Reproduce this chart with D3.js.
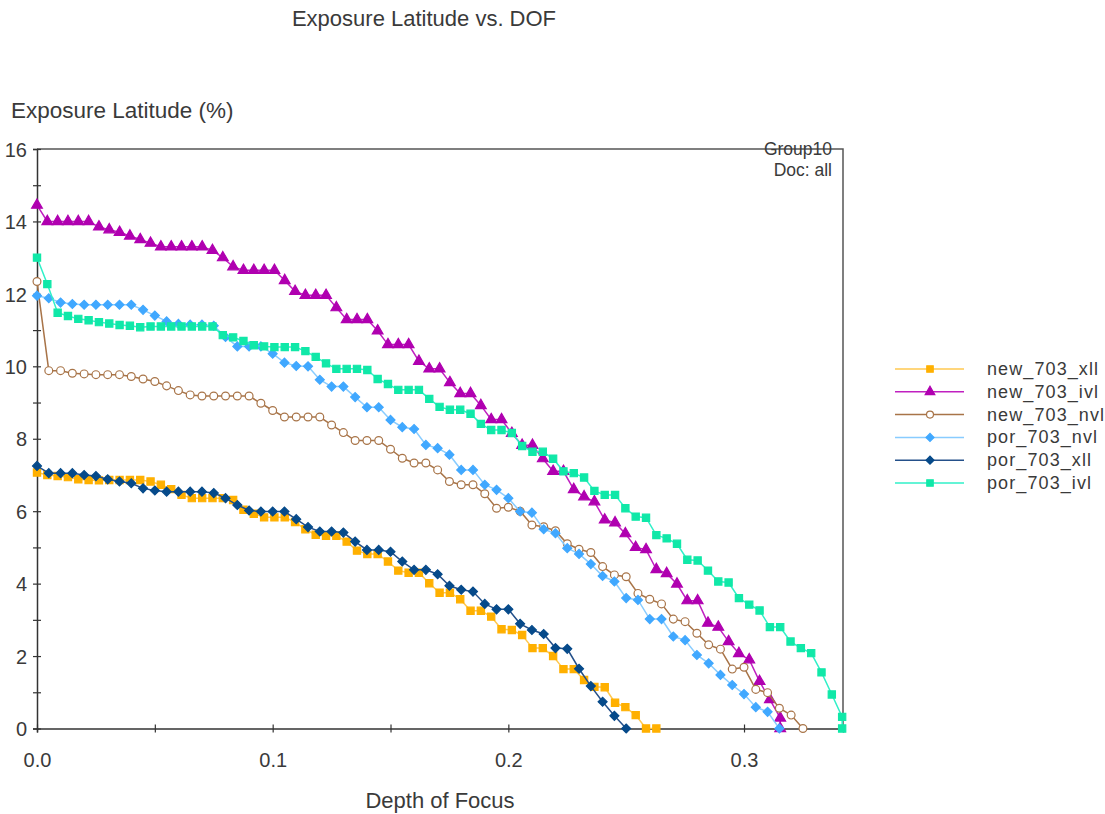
<!DOCTYPE html>
<html>
<head>
<meta charset="utf-8">
<script src="https://cdn.jsdelivr.net/npm/d3@7"></script>
<style>
  body { margin: 0; background: #fff; }
  text { font-family: "Liberation Sans", Arial, sans-serif; fill: #3a3a3a; }
</style>
</head>
<body>
<script>
// series names, in legend order
var seriesNames = ["new_703_xll", "new_703_ivl", "new_703_nvl", "por_703_nvl", "por_703_xll", "por_703_ivl"];

// DOF sampling step of each series
var dofSteps = [0.00438, 0.00438, 0.005, 0.005, 0.005, 0.00438];

// exposure latitude (%)
var newXll = [7.07, 7.0, 6.97, 6.94, 6.88, 6.86, 6.85, 6.86, 6.86, 6.86, 6.86, 6.82, 6.73, 6.61, 6.45, 6.36, 6.36, 6.36, 6.36, 6.31,
  6.04, 5.93, 5.83, 5.83, 5.83, 5.7, 5.5, 5.35, 5.32, 5.32, 5.16, 4.91, 4.82, 4.82, 4.61, 4.36, 4.3, 4.3, 4.01, 3.75,
  3.75, 3.57, 3.25, 3.25, 3.09, 2.74, 2.72, 2.58, 2.22, 2.22, 2.0, 1.64, 1.64, 1.34, 1.15, 1.14, 0.71, 0.59, 0.37, 0, 0];
var newIvl = [14.45, 14.0, 14.0, 14.0, 14.0, 14.0, 13.85, 13.77, 13.7, 13.6, 13.5, 13.4, 13.3, 13.3, 13.3, 13.3, 13.3, 13.2, 13.0, 12.75,
  12.65, 12.65, 12.65, 12.65, 12.37, 12.07, 11.96, 11.96, 11.96, 11.62, 11.29, 11.29, 11.29, 10.98, 10.6, 10.6, 10.6, 10.14, 9.93, 9.93,
  9.55, 9.25, 9.25, 8.92, 8.53, 8.53, 8.15, 7.82, 7.82, 7.45, 7.1, 7.1, 6.6, 6.4, 6.26, 5.76, 5.68, 5.38, 5.0, 4.94,
  4.39, 4.28, 3.99, 3.53, 3.53, 2.91, 2.8, 2.4, 2.07, 1.9, 1.3, 0.8, 0.29];
var newNvl = [12.34, 9.88, 9.88, 9.81, 9.79, 9.77, 9.77, 9.77, 9.72, 9.65, 9.58, 9.46, 9.33, 9.21, 9.18, 9.18, 9.18, 9.18, 9.18, 8.98,
  8.78, 8.6, 8.6, 8.6, 8.6, 8.38, 8.17, 7.95, 7.95, 7.95, 7.71, 7.46, 7.33, 7.33, 7.14, 6.82, 6.73, 6.73, 6.48, 6.08,
  6.11, 6.0, 5.62, 5.57, 5.46, 5.1, 4.95, 4.86, 4.47, 4.24, 4.19, 3.73, 3.57, 3.44, 3.02, 2.95, 2.63, 2.31, 2.19, 1.64,
  1.69, 1.08, 0.99, 0.56, 0.37, 0];
var porNvl = [11.95, 11.88, 11.76, 11.72, 11.7, 11.7, 11.7, 11.7, 11.7, 11.56, 11.4, 11.24, 11.17, 11.15, 11.15, 11.12, 10.81, 10.55, 10.55, 10.55,
  10.35, 10.1, 10.01, 10.0, 9.63, 9.44, 9.44, 9.15, 8.87, 8.87, 8.52, 8.32, 8.27, 7.83, 7.74, 7.56, 7.14, 7.14, 6.73, 6.59,
  6.36, 5.99, 5.96, 5.5, 5.39, 4.98, 4.82, 4.54, 4.21, 4.06, 3.6, 3.55, 3.02, 3.02, 2.54, 2.44, 2.03, 1.8, 1.48, 1.2,
  0.95, 0.59, 0.46, 0];
var porXll = [7.25, 7.05, 7.05, 7.05, 7.0, 6.97, 6.88, 6.82, 6.77, 6.63, 6.57, 6.54, 6.54, 6.54, 6.54, 6.5, 6.36, 6.17, 6.02, 5.99,
  5.99, 5.99, 5.78, 5.56, 5.44, 5.44, 5.41, 5.16, 4.93, 4.93, 4.88, 4.61, 4.38, 4.38, 4.26, 3.94, 3.83, 3.78, 3.44, 3.29,
  3.29, 2.89, 2.72, 2.61, 2.22, 2.2, 1.65, 1.17, 0.74, 0.35, 0];
var porIvl = [13.0, 12.27, 11.48, 11.39, 11.31, 11.27, 11.22, 11.18, 11.14, 11.12, 11.08, 11.1, 11.1, 11.1, 11.1, 11.1, 11.1, 11.1, 10.86, 10.8,
  10.7, 10.58, 10.55, 10.53, 10.53, 10.53, 10.42, 10.26, 10.08, 9.93, 9.93, 9.93, 9.9, 9.65, 9.51, 9.35, 9.35, 9.35, 9.1, 8.88,
  8.8, 8.8, 8.69, 8.41, 8.24, 8.24, 8.16, 7.8, 7.64, 7.64, 7.45, 7.1, 7.05, 6.93, 6.56, 6.45, 6.45, 6.08, 5.85, 5.82,
  5.34, 5.25, 5.1, 4.66, 4.64, 4.36, 4.06, 4.03, 3.6, 3.42, 3.26, 2.8, 2.8, 2.4, 2.22, 2.08, 1.55, 0.94, 0.32];

// series whose last sample drops straight down to zero
var dropToZero = [false, true, false, false, false, true];

var yMajorTicks = [0, 2, 4, 6, 8, 10, 12, 14, 16];
var yMinorTicks = [1, 3, 5, 7, 9, 11, 13, 15];
var xMajorTicks = [0, 0.1, 0.2, 0.3];
var xMinorTicks = [0.05, 0.15, 0.25];

var allValues = [newXll, newIvl, newNvl, porNvl, porXll, porIvl];

// diamonds are squares turned by 45 degrees
var styles = [
  { line: "#ffc850", fill: "#ffb000", stroke: "#ffb000", symbol: d3.symbolSquare, size: 52, rot: 0 },
  { line: "#c020c0", fill: "#b000b0", stroke: "#b000b0", symbol: d3.symbolTriangle, size: 50, rot: 0 },
  { line: "#a87448", fill: "#fff", stroke: "#a87448", symbol: d3.symbolCircle, size: 48, rot: 0 },
  { line: "#88ccff", fill: "#40a8ff", stroke: "#40a8ff", symbol: d3.symbolSquare, size: 40, rot: 45 },
  { line: "#24508a", fill: "#064a8a", stroke: "#064a8a", symbol: d3.symbolSquare, size: 40, rot: 45 },
  { line: "#30f0c8", fill: "#10e8a8", stroke: "#10e8a8", symbol: d3.symbolSquare, size: 52, rot: 0 }
];

window.addEventListener('load', function () {
    drawChart();
});

function drawChart() {

    var width = 1105, height = 814;
    var plot = { left: 37, right: 843, top: 149, bottom: 728.5 };

    var svg = d3.select("body").append("svg")
        .attr("width", width)
        .attr("height", height);

    var xScale = d3.scaleLinear().domain([0, 0.342]).range([plot.left, plot.right]);
    var yScale = d3.scaleLinear().domain([0, 16]).range([plot.bottom, plot.top]);

    // titles
    svg.append("text")
        .attr("x", 424).attr("y", 26)
        .attr("text-anchor", "middle")
        .style("font-size", "22px")
        .text("Exposure Latitude vs. DOF");

    svg.append("text")
        .attr("x", 11).attr("y", 118)
        .style("font-size", "22.5px")
        .text("Exposure Latitude (%)");

    svg.append("text")
        .attr("x", 440).attr("y", 808)
        .attr("text-anchor", "middle")
        .style("font-size", "22px")
        .text("Depth of Focus");

    // frame on top and right
    svg.append("path")
        .attr("d", "M" + plot.left + "," + plot.top + "H" + plot.right + "V" + plot.bottom)
        .attr("fill", "none")
        .attr("stroke", "#555")
        .attr("stroke-width", 1.5);

    // Y axis
    var yAxis = svg.append("g")
        .attr("transform", "translate(" + plot.left + ",0)")
        .call(d3.axisLeft(yScale).tickValues(yMajorTicks).tickFormat(d3.format("d")).tickSize(4).tickPadding(6));
    var yMinor = svg.append("g")
        .attr("transform", "translate(" + plot.left + ",0)")
        .call(d3.axisLeft(yScale).tickValues(yMinorTicks).tickFormat("").tickSize(4));
    yMinor.select(".domain").remove();

    // X axis
    var xAxis = svg.append("g")
        .attr("transform", "translate(0," + plot.bottom + ")")
        .call(d3.axisBottom(xScale).tickValues(xMajorTicks).tickFormat(d3.format(".1f")).tickSize(4).tickPadding(20));
    var xMinor = svg.append("g")
        .attr("transform", "translate(0," + plot.bottom + ")")
        .call(d3.axisBottom(xScale).tickValues(xMinorTicks).tickFormat("").tickSize(4));
    xMinor.select(".domain").remove();

    [yAxis, yMinor, xAxis, xMinor].forEach(function (g) {
        g.selectAll(".domain").attr("stroke", "#333").attr("stroke-width", 1.5);
        g.selectAll(".tick line").attr("stroke", "#333").attr("stroke-width", 1.2);
        g.selectAll(".tick text").style("font-size", "20px").attr("fill", "#3a3a3a");
    });
    // ticks cross the axis line
    yAxis.selectAll(".tick line").attr("x1", 4);
    yMinor.selectAll(".tick line").attr("x1", 4);
    xAxis.selectAll(".tick line").attr("y1", -4);
    xMinor.selectAll(".tick line").attr("y1", -4);
    yAxis.selectAll(".tick text").attr("dy", "0.36em");

    // series
    var line = d3.line()
        .x(function (d) { return xScale(d.x); })
        .y(function (d) { return yScale(d.y); });

    allValues.forEach(function (vals, s) {
        var pts = vals.map(function (v, i) { return { x: i * dofSteps[s], y: v }; });
        if (dropToZero[s]) {
            pts.push({ x: pts[pts.length - 1].x, y: 0 });
        }
        var st = styles[s];

        svg.append("path")
            .datum(pts)
            .attr("fill", "none")
            .attr("stroke", st.line)
            .attr("stroke-width", 1.5)
            .attr("d", line);

        svg.append("g").selectAll("path")
            .data(pts)
            .enter()
            .append("path")
            .attr("transform", function (d) {
                return "translate(" + xScale(d.x) + "," + yScale(d.y) + ") rotate(" + st.rot + ")";
            })
            .attr("d", d3.symbol().type(st.symbol).size(st.size))
            .attr("fill", st.fill)
            .attr("stroke", st.stroke)
            .attr("stroke-width", 1.2);
    });

    // corner note
    svg.append("text")
        .attr("x", 832).attr("y", 155)
        .attr("text-anchor", "end")
        .style("font-size", "17.5px")
        .text("Group10");
    svg.append("text")
        .attr("x", 832).attr("y", 176)
        .attr("text-anchor", "end")
        .style("font-size", "17.5px")
        .text("Doc: all");

    // legend
    var legend = svg.append("g");
    seriesNames.forEach(function (name, s) {
        var ly = 369 + s * 22.8;
        var st = styles[s];
        legend.append("line")
            .attr("x1", 895).attr("x2", 964)
            .attr("y1", ly).attr("y2", ly)
            .attr("stroke", st.line)
            .attr("stroke-width", 1.5);
        legend.append("path")
            .attr("transform", "translate(930," + ly + ") rotate(" + st.rot + ")")
            .attr("d", d3.symbol().type(st.symbol).size(st.size * 0.8))
            .attr("fill", st.fill)
            .attr("stroke", st.stroke)
            .attr("stroke-width", 1.2);
        legend.append("text")
            .attr("x", 987).attr("y", ly + 6)
            .style("font-size", "18px")
            .style("letter-spacing", "1.1px")
            .text(name);
    });
}
</script>
</body>
</html>
